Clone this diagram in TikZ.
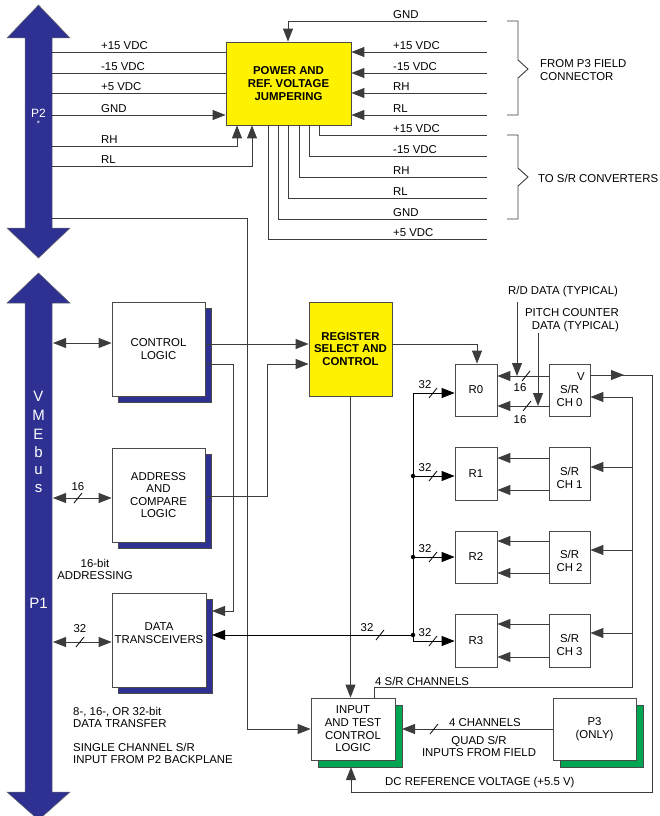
\documentclass[tikz,border=0pt]{standalone}
\usepackage{fontspec}
\setmainfont{Liberation Sans}
\usetikzlibrary{arrows.meta,shadows}
\definecolor{vblue}{HTML}{2E3192}
\definecolor{vyellow}{HTML}{FFF200}
\definecolor{vgreen}{HTML}{00A651}
\definecolor{lncol}{HTML}{3C3C3C}
\definecolor{boxcol}{HTML}{4A4A4A}
\newcommand{\dgfont}{\fontsize{11.4}{12.6}\selectfont}
\begin{document}
\begin{tikzpicture}[x=1pt,y=-1pt,
  ln/.style={draw=lncol, line width=0.9pt},
  arr/.style={ln, -{Triangle[length=13pt,width=10pt]}},
  darr/.style={ln, {Triangle[length=13pt,width=10pt]}-{Triangle[length=13pt,width=10pt]}},
  lbl/.style={font=\dgfont, inner sep=0pt},
  box/.style={draw=boxcol, line width=0.8pt, fill=white, inner sep=0pt, align=center, font=\dgfont},
  ybox/.style={box, fill=vyellow, font=\dgfont\bfseries},
  bshbox/.style={box, general shadow={fill=vblue, draw=boxcol, line width=0.5pt, shadow xshift=6pt, shadow yshift=-6pt}},
  gshbox/.style={box, general shadow={fill=vgreen, draw=boxcol, line width=0.5pt, shadow xshift=7pt, shadow yshift=-7pt}},
  jdot/.style={circle, fill=black, inner sep=0pt, minimum size=4.5pt},
  busmark/.pic={\draw[line width=0.8pt, draw=black] (-4,5) -- (4,-5);},
  bigarrow/.style={fill=vblue, draw=black!60, line width=0.5pt}
]
\useasboundingbox (0,0) rectangle (660,816);

% ---------- big bus arrows ----------
\filldraw[bigarrow] (38.5,5) -- (70,38) -- (52,38) -- (52,228) -- (70,228) -- (38.5,258)
  -- (7,228) -- (25,228) -- (25,38) -- (7,38) -- cycle;
\filldraw[bigarrow] (38.5,273) -- (70,303) -- (52,303) -- (52,792) -- (70,792) -- (38.5,820)
  -- (7,792) -- (25,792) -- (25,303) -- (7,303) -- cycle;
\node[text=white, font=\fontsize{12}{12}\selectfont, inner sep=0pt] (p2lbl) at (38.5,113) {P2};
\node[text=white, font=\fontsize{8}{8}\selectfont, inner sep=0pt] (p2star) at (38.5,124) {*};
\foreach \c/\y in {V/396,M/415,E/434,b/452,u/471,s/489}
  \node[text=white, font=\fontsize{15}{15}\selectfont, inner sep=0pt] at (38.5,\y) {\c};
\node[text=white, font=\fontsize{15}{15}\selectfont, inner sep=0pt] (p1lbl) at (38.5,603) {P1};

% ---------- boxes ----------
\node[ybox, minimum width=125pt, minimum height=83pt] (pw) at (288.5,83.5) {POWER AND\\REF. VOLTAGE\\JUMPERING};
\node[bshbox, minimum width=93pt, minimum height=94pt] (cl) at (158.5,349) {CONTROL\\LOGIC};
\node[bshbox, minimum width=93pt, minimum height=94pt] (ac) at (158.5,495) {ADDRESS\\AND\\COMPARE\\LOGIC};
\node[bshbox, minimum width=94pt, minimum height=94pt] (dt) at (159,640) {};
\node[lbl, align=center] (dtt) at (159,633) {DATA\\TRANSCEIVERS};
\node[ybox, minimum width=83pt, minimum height=94pt] (rs) at (350.5,349) {REGISTER\\SELECT AND\\CONTROL};
\node[box, minimum width=42pt, minimum height=52pt] (r0) at (476,390) {R0};
\node[box, minimum width=42pt, minimum height=53pt] (r1) at (476,473.5) {R1};
\node[box, minimum width=42pt, minimum height=52pt] (r2) at (476,557) {R2};
\node[box, minimum width=42pt, minimum height=53pt] (r3) at (476,640.5) {R3};
\node[box, minimum width=41pt, minimum height=52pt] (s0) at (569.5,390) {};
\node[box, minimum width=41pt, minimum height=53pt] (s1) at (569.5,473.5) {};
\node[box, minimum width=41pt, minimum height=52pt] (s2) at (569.5,557) {};
\node[box, minimum width=41pt, minimum height=53pt] (s3) at (569.5,640.5) {};
\node[lbl] (s0v) at (581,377) {V};
\node[lbl, align=center] (s0t) at (569.5,396) {S/R\\CH 0};
\node[lbl, align=center] (s1t) at (569.5,478) {S/R\\CH 1};
\node[lbl, align=center] (s2t) at (569.5,561) {S/R\\CH 2};
\node[lbl, align=center] (s3t) at (569.5,645) {S/R\\CH 3};
\node[gshbox, minimum width=84pt, minimum height=62pt] (in) at (353,729) {INPUT\\AND TEST\\CONTROL\\LOGIC};
\node[gshbox, minimum width=83pt, minimum height=62pt] (p3) at (594.5,729) {P3\\(ONLY)};

% ---------- power section ----------
\draw[arr] (487,21) -- (288,21) -- (pw.north -| 288,0);
\foreach \y in {52,73,93,115} \draw[arr] (487,\y) -- (pw.east |- 0,\y);
\foreach \y in {52,73,93} \draw[ln] (52,\y) -- (pw.west |- 0,\y);
\draw[arr] (52,115) -- (pw.west |- 0,115);
\draw[arr] (52,146) -- (237,146) -- (pw.south -| 237,0);
\draw[arr] (52,166) -- (252,166) -- (pw.south -| 252,0);
\foreach \x/\y in {319/135,309/156,299/177,288/198,278/219,268/239}
  \draw[ln] (pw.south -| \x,0) -- (\x,\y) -- (487,\y);

\foreach \t/\y in {+15 VDC/52,-15 VDC/73,+5 VDC/93,GND/115,RH/146,RL/166}
  \node[lbl, anchor=base west] at (101,\y-2.5) {\t};
\foreach \t/\y in {GND/21,+15 VDC/52,-15 VDC/73,RH/93,RL/115,+15 VDC/135,-15 VDC/156,RH/177,RL/198,GND/219,+5 VDC/239}
  \node[lbl, anchor=base west] at (393,\y-2.5) {\t};

\draw[ln] (507,21) -- (518,21) -- (518,60) -- (528,69) -- (518,78) -- (518,115) -- (507,115);
\draw[ln] (507,135) -- (518,135) -- (518,168) -- (528,177) -- (518,186) -- (518,219) -- (507,219);
\node[lbl, anchor=west, align=left] (fromp3) at (540,70) {FROM P3 FIELD\\CONNECTOR};
\node[lbl, anchor=west] (tosr) at (538,178) {TO S/R CONVERTERS};

% ---------- P2 single channel line ----------
\draw[arr] (52,218) -- (247,218) -- (247,729) -- (in.west);

% ---------- control / address / transceivers ----------
\draw[darr] (53,343) -- (cl.west |- 0,343);
\draw[arr] (cl.east |- 0,344) -- (rs.west |- 0,344);
\draw[arr] (cl.east |- 0,364) -- (233,364) -- (233,611) -- (212,611);
\draw[darr] (53,498) -- (ac.west |- 0,498);
\pic at (78,498) {busmark};
\node[lbl] at (78,487) {16};
\draw[arr] (ac.east |- 0,496) -- (267,496) -- (267,364) -- (rs.west |- 0,364);
\draw[darr] (53,642) -- (dt.west |- 0,642);
\pic at (80,642) {busmark};
\node[lbl] at (80,629) {32};

\node[lbl] at (95,563) {16-bit};
\node[lbl] at (95,576) {ADDRESSING};
\node[lbl, anchor=west, align=left] at (73,717.5) {8-, 16-, OR 32-bit\\DATA TRANSFER};
\node[lbl, anchor=west, align=left] at (73,753.5) {SINGLE CHANNEL S/R\\INPUT FROM P2 BACKPLANE};

% ---------- register select ----------
\draw[arr] (rs.east |- 0,344) -- (477,344) -- (r0.north -| 477,0);
\draw[arr] (rs.south) -- (in.north -| rs.south);

% ---------- R / S/R channels ----------
\foreach \s/\r/\ya/\yb in {s0/r0/376/406, s1/r1/458/490, s2/r2/541/573, s3/r3/624/657} {
  \draw[arr] (\s.west |- 0,\ya) -- (\r.east |- 0,\ya);
  \draw[arr] (\s.west |- 0,\yb) -- (\r.east |- 0,\yb);
}
\pic at (526,376) {busmark};
\pic at (527,406) {busmark};
\node[lbl] at (520,388) {16};
\node[lbl] at (520,420) {16};
\draw[arr] (517,302) -- (517,376);
\draw[arr] (538,333) -- (538,406);
\node[lbl] (rd) at (563,292) {R/D DATA (TYPICAL)};
\node[lbl, anchor=east, align=right] (pc) at (619,320) {PITCH COUNTER\\DATA (TYPICAL)};

% V output and DC reference
\draw[ln] (s0.east |- 0,375) -- (652,375) -- (652,792) -- (351,792);
\draw[arr] (s0.east |- 0,375) -- (624,375);
\coordinate (inshb) at (351,767);
\draw[arr] (351,792) -- (inshb);
% inner feed
\draw[ln] (632,397) -- (632,687) -- (374,687) -- (in.north -| 374,0);
\draw[arr] (632,397) -- (s0.east |- 0,397);
\draw[arr] (632,467) -- (s1.east |- 0,467);
\draw[arr] (632,550) -- (s2.east |- 0,550);
\draw[arr] (632,633) -- (s3.east |- 0,633);
\node[lbl, anchor=west] at (375,681) {4 S/R CHANNELS};
\node[lbl, anchor=west] at (385,783) {DC REFERENCE VOLTAGE (+5.5 V)};

% data bus
\draw[ln, draw=black] (413,393) -- (413,641);
\foreach \r/\y in {r0/393, r1/476, r2/557, r3/641} {
  \draw[arr, draw=black] (413,\y) -- (\r.west |- 0,\y);
  \pic at (433,\y) {busmark};
  \node[lbl] at (425,\y-8) {32};
}
\node[jdot] at (413,476) {};
\node[jdot] at (413,557) {};
\node[jdot] (bj) at (413,635) {};
\draw[arr, draw=black] (bj.center) -- (212,635);
\pic at (380,635) {busmark};
\node[lbl] at (367,628) {32};

% P3 to input
\draw[arr] (p3.west) -- (402,729);
\pic at (434,729) {busmark};
\node[lbl, anchor=base west] at (449,726) {4 CHANNELS};
\node[lbl, align=center] at (479,746.5) {QUAD S/R\\INPUTS FROM FIELD};
\end{tikzpicture}
\end{document}
